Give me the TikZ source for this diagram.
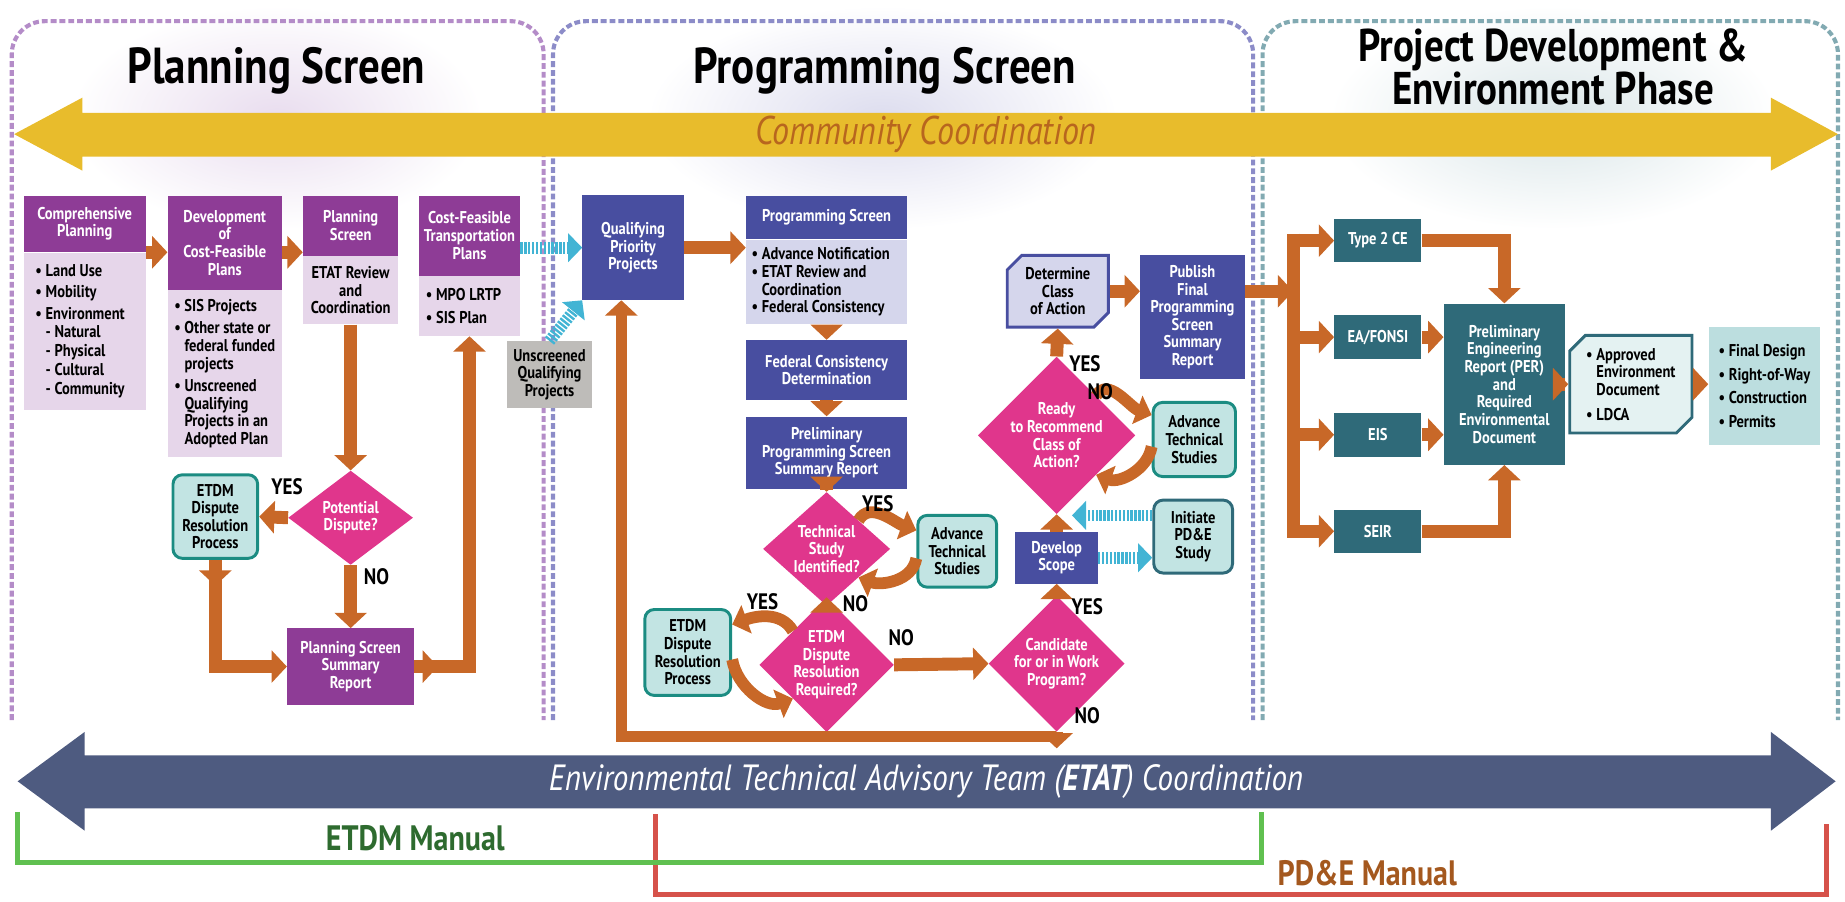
\documentclass[tikz,border=0pt]{standalone}
\usepackage{fontspec}
\setmainfont{PT Sans}[FakeStretch=0.85]
\usetikzlibrary{shapes.geometric, shapes.misc, arrows.meta, calc}

\definecolor{plum1}{RGB}{142, 60, 150}
\definecolor{plum2}{RGB}{230, 214, 234}
\definecolor{navy1}{RGB}{72, 78, 160}
\definecolor{navy2}{RGB}{213, 214, 236}
\definecolor{magenta1}{RGB}{224, 54, 140}
\definecolor{teal1}{RGB}{27, 140, 130}
\definecolor{teal2}{RGB}{194, 228, 227}
\definecolor{slate1}{RGB}{47, 106, 121}
\definecolor{slate2}{RGB}{188, 222, 223}
\definecolor{orange1}{RGB}{200, 104, 40}
\definecolor{cyan1}{RGB}{66, 180, 212}
\definecolor{gray1}{RGB}{190, 188, 185}
\definecolor{gold1}{RGB}{232, 188, 44}
\definecolor{goldtext}{RGB}{184, 102, 30}
\definecolor{etatblue}{RGB}{78, 91, 128}
\definecolor{green1}{RGB}{96, 192, 80}
\definecolor{green2}{RGB}{46, 107, 47}
\definecolor{red1}{RGB}{214, 82, 74}
\definecolor{brown1}{RGB}{164, 88, 30}
\definecolor{panelplum}{RGB}{180, 140, 200}
\definecolor{panelnavy}{RGB}{140, 140, 200}
\definecolor{panelteal}{RGB}{130, 170, 178}

\newcommand{\boxfont}{\fontsize{14.5}{15}\selectfont\bfseries}
\newcommand{\phasefont}{\fontsize{43}{40}\selectfont\bfseries}
\newcommand{\bannerfont}{\fontsize{34}{36}\selectfont\itshape}
\newcommand{\etatfont}{\fontsize{31}{33}\selectfont\itshape}
\newcommand{\manfont}{\fontsize{30}{32}\selectfont\bfseries}
\newcommand{\ynfont}{\fontsize{19}{19}\selectfont\bfseries}
\newcommand{\bul}{\textbullet\ }
\newcommand{\cont}{\hphantom{\textbullet\ }}

\tikzset{
  phead/.style={fill=plum1, text=white, font=\boxfont, align=center, inner sep=2pt, anchor=north},
  pbody/.style={fill=plum2, font=\boxfont, align=left, inner sep=4pt, anchor=north},
  nhead/.style={fill=navy1, text=white, font=\boxfont, align=center, inner sep=2pt},
  nbody/.style={fill=navy2, font=\boxfont, align=left, inner sep=4pt, anchor=north},
  dia/.style={diamond, fill=magenta1, text=white, font=\boxfont, align=center, inner sep=0pt},
  tealbox/.style={draw=teal1, line width=2.5pt, fill=teal2, rounded corners=8pt, font=\boxfont, align=center, inner sep=2pt},
  slatebox/.style={fill=slate1, text=white, font=\boxfont, align=center, inner sep=2pt},
  fatarrow/.style={draw=orange1, line width=11pt, -{Triangle[width=27pt, length=13pt]}},
  fatline/.style={draw=orange1, line width=11pt},
  fatarc/.style={draw=orange1, line width=10pt, -{Triangle[width=25pt, length=13pt]}},
  dotarrow/.style={draw=cyan1, line width=10pt, dash pattern=on 2pt off 1.3pt, -{Triangle[width=24pt, length=12pt]}},
  panel/.style={line width=3.5pt, dash pattern=on 5pt off 2.5pt, rounded corners=28pt},
  yesno/.style={font=\ynfont}
}

\begin{document}
\begin{tikzpicture}[x=1pt, y=1pt]
  \useasboundingbox (0,0) rectangle (1568,-766);

  % Glow behind the phase titles
  \shade[inner color=panelplum!30, outer color=white] (235,-100) ellipse (175 and 95);
  \shade[inner color=panelnavy!30, outer color=white] (750,-100) ellipse (200 and 95);
  \shade[inner color=panelteal!30, outer color=white] (1320,-100) ellipse (190 and 95);

  % Phase panels
  \draw[panel, draw=panelplum] (10,-612) -- (10,-18) -- (462,-18) -- (462,-612);
  \draw[panel, draw=panelnavy] (470,-612) -- (470,-18) -- (1065,-18) -- (1065,-612);
  \draw[panel, draw=panelteal] (1073,-612) -- (1073,-18) -- (1562,-18) -- (1562,-612);

  % Phase titles
  \node[font=\phasefont] (plantitle) at (235,-60) {Planning Screen};
  \node[font=\phasefont] (progtitle) at (752,-60) {Programming Screen};
  \node[font=\fontsize{39}{37}\selectfont\bfseries, align=center] (pdetitle) at (1320,-57) {Project Development \&\\Environment Phase};

  % Community coordination banner
  \fill[gold1] (12,-114) -- (70,-83) -- (70,-96) -- (1505,-96) -- (1505,-83) -- (1562,-114)
    -- (1505,-145) -- (1505,-133) -- (70,-133) -- (70,-145) -- cycle;
  \node[font=\bannerfont, text=goldtext] (commtxt) at (787,-114) {Community Coordination};

  % Planning screen
  \node[phead, minimum width=104pt, minimum height=48pt] (comphd) at (72,-166) {Comprehensive\\Planning};
  \node[pbody, minimum width=104pt, minimum height=134pt] (compbd) at (comphd.south) {
    \bul Land Use\\[3pt]\bul Mobility\\[3pt]\bul Environment\\[1pt]
    \cont- Natural\\[1pt]\cont- Physical\\[1pt]\cont- Cultural\\[1pt]\cont- Community\hspace*{8pt}};

  \node[phead, minimum width=97pt, minimum height=80pt] (devhd) at (191,-166) {Development\\of\\Cost-Feasible\\Plans};
  \node[pbody, minimum width=97pt, minimum height=142pt] (devbd) at (devhd.south) {
    \bul SIS Projects\\[4pt]\bul Other state or\\\cont federal funded\\\cont projects\\[4pt]
    \bul Unscreened\\\cont Qualifying\\\cont Projects in an\\\cont Adopted Plan};

  \node[phead, minimum width=81pt, minimum height=51pt] (psthd) at (298,-166) {Planning\\Screen};
  \node[pbody, align=center, minimum width=81pt, minimum height=58pt, inner sep=1pt] (pstbd) at (psthd.south) {ETAT Review\\and\\Coordination};

  \node[phead, minimum width=86pt, minimum height=68pt] (cfthd) at (399,-166) {Cost-Feasible\\Transportation\\Plans};
  \node[pbody, minimum width=86pt, minimum height=51pt] (cftbd) at (cfthd.south) {\bul MPO LRTP\hspace*{10pt}\\[4pt]\bul SIS Plan};

  \draw[fatarrow] (comphd.south east) -- (devhd.west |- comphd.south east);
  \draw[fatarrow] (devhd.east |- comphd.south) -- (psthd.west |- comphd.south);

  \node[dia, minimum width=106pt, minimum height=80pt] (pdisp) at (298,-440) {Potential\\Dispute?};
  \node[tealbox, minimum width=72pt, minimum height=71pt] (etdm1) at (183,-439) {ETDM\\Dispute\\Resolution\\Process};
  \node[fill=plum1, text=white, font=\boxfont, align=center, minimum width=108pt, minimum height=65pt] (sumrep) at (298,-566.5) {Planning Screen\\Summary\\Report};

  \draw[fatarrow] (pstbd.south) -- (pdisp.north);
  \draw[fatarrow] (pdisp.west) -- (etdm1.east);
  \draw[fatarrow] (pdisp.south) -- (sumrep.north);
  \draw[fatarrow] (etdm1.south) |- (sumrep.west);
  \draw[fatarrow] (etdm1.south) -- ++(0,-22);
  \draw[fatarrow] (sumrep.east) -| (cftbd.south);
  \draw[fatarrow] (sumrep.east) -- ++(20,0);
  \node[yesno] (yes1) at (244,-414) {YES};
  \node[yesno] (no1) at (320,-490) {NO};

  % Programming screen
  \node[fill=gray1, font=\boxfont, align=center, minimum width=72pt, minimum height=57pt, inner sep=1pt] (unscr) at (467,-318.5) {Unscreened\\Qualifying\\Projects};
  \node[nhead, minimum width=86pt, minimum height=89pt] (qpp) at (538,-210.5) {Qualifying\\Priority\\Projects};
  \draw[dotarrow] (cfthd.east |- qpp.west) -- (qpp.west);
  \draw[dotarrow] (unscr.north) -- (qpp.south west);

  \node[nhead, anchor=north, minimum width=137pt, minimum height=37pt] (pshd) at (702.5,-166) {Programming Screen};
  \node[nbody, minimum width=137pt, minimum height=72pt] (psbd) at (pshd.south) {
    \bul Advance Notification\hspace*{10pt}\\\bul ETAT Review and\\\cont Coordination\\\bul Federal Consistency};
  \node[nhead, minimum width=137pt, minimum height=51pt] (fcd) at (702.5,-314.5) {Federal Consistency\\Determination};
  \node[nhead, minimum width=137pt, minimum height=62pt] (pre) at (702.5,-385) {Preliminary\\Programming Screen\\Summary Report};

  \draw[fatarrow] (qpp.east) -- (pshd.west |- qpp.east);
  \draw[fatarrow] (psbd.south) -- (fcd.north);
  \draw[fatarrow] (fcd.south) -- (pre.north);

  \node[dia, minimum width=108pt, minimum height=78pt] (techdia) at (702.5,-466.5) {Technical\\Study\\Identified?};
  \node[tealbox, minimum width=67pt, minimum height=61pt] (adv1) at (813.5,-468.5) {Advance\\Technical\\Studies};
  \node[dia, minimum width=112pt, minimum height=92pt] (etdmreq) at (702.5,-565) {ETDM\\Dispute\\Resolution\\Required?};
  \node[tealbox, minimum width=73pt, minimum height=73pt] (etdm2) at (584.5,-554.5) {ETDM\\Dispute\\Resolution\\Process};

  \draw[fatarrow] (pre.south) -- (techdia.north);
  \draw[fatarrow] (techdia.south) -- (etdmreq.north);
  \draw[fatarc] (techdia.north east) to[out=60, in=160] ($(adv1.north west)+(0,-14)$);
  \draw[fatarc] ($(adv1.west)+(0,-6)$) to[out=-100, in=-20] (techdia.south east);
  \draw[fatarc] (etdmreq.north west) to[out=120, in=20] ($(etdm2.north east)+(0,-14)$);
  \draw[fatarc] ($(etdm2.east)+(0,-6)$) to[out=-80, in=200] (etdmreq.south west);
  \node[yesno] (yes2) at (746,-428) {YES};
  \node[yesno] (no2) at (727,-513) {NO};
  \node[yesno] (yes3) at (648,-511) {YES};
  \node[yesno] (no3) at (766,-542) {NO};

  \node[dia, minimum width=104pt, minimum height=84pt] (cand) at (898,-564) {Candidate\\for or in Work\\Program?};
  \node[nhead, minimum width=70pt, minimum height=44pt] (devsc) at (898,-474) {Develop\\Scope};
  \node[tealbox, draw=slate1, minimum width=67pt, minimum height=62pt] (init) at (1014,-456) {Initiate\\PD\&E\\Study};
  \node[dia, minimum width=110pt, minimum height=82pt] (ready) at (898,-370) {Ready\\to Recommend\\Class of\\Action?};
  \node[tealbox, minimum width=70pt, minimum height=63pt] (adv2) at (1015,-373.5) {Advance\\Technical\\Studies};
  \node[chamfered rectangle, chamfered rectangle corners={north west, south east}, chamfered rectangle xsep=9pt,
    draw=navy1, line width=2.5pt, fill=navy2, font=\boxfont, align=center, minimum width=86pt, minimum height=61pt] (detcls) at (899,-247.5) {Determine\\Class\\of Action};
  \node[nhead, minimum width=89pt, minimum height=105pt] (publ) at (1013.5,-269.5) {Publish\\Final\\Programming\\Screen\\Summary\\Report};

  \draw[fatarrow] (etdmreq.east) -- (cand.west);
  \draw[fatarrow] (cand.north) -- (devsc.south);
  \draw[fatarrow] (devsc.north) -- (ready.south);
  \draw[fatarrow] (ready.north) -- (detcls.south);
  \draw[fatarrow] (detcls.east) -- (publ.west |- detcls.east);
  \draw[fatarc] (ready.north east) to[out=60, in=160] ($(adv2.north west)+(0,-12)$);
  \draw[fatarc] ($(adv2.west)+(0,-6)$) to[out=-100, in=-20] (ready.south east);
  \draw[dotarrow] (devsc.east) -- (init.west |- devsc.east);
  \draw[dotarrow] ($(init.west)+(0,18)$) -- ($(devsc.north |- init.west)+(13,18)$);
  \node[yesno] (yes4) at (924,-516) {YES};
  \node[yesno] (no4) at (924,-608) {NO};
  \node[yesno] (yes5) at (922,-309) {YES};
  \node[yesno] (no5) at (935,-333) {NO};

  % Loop back to qualifying projects
  \coordinate (loopbot) at (528,-626);
  \draw[fatarrow, line width=9pt] (cand.south) |- (loopbot) -- (loopbot |- qpp.south);
  \draw[fatarrow] (cand.south) -- ++(0,-14);

  % Project development and environment
  \node[slatebox, minimum width=74pt, minimum height=37pt] (type2) at (1171,-204.5) {Type 2 CE};
  \node[slatebox, minimum width=74pt, minimum height=37pt] (eafonsi) at (1171,-286.5) {EA/FONSI};
  \node[slatebox, minimum width=74pt, minimum height=37pt] (eis) at (1171,-369.5) {EIS};
  \node[slatebox, minimum width=74pt, minimum height=37pt] (seir) at (1171,-451.5) {SEIR};
  \node[slatebox, minimum width=103pt, minimum height=137pt] (per) at (1278.5,-326.5) {Preliminary\\Engineering\\Report (PER)\\and\\Required\\Environmental\\Document};
  \node[chamfered rectangle, chamfered rectangle corners={north west, south east}, chamfered rectangle xsep=10pt,
    draw=slate1, line width=2.5pt, fill=slate2!40, font=\boxfont, align=left, inner sep=4pt, minimum width=92pt, minimum height=83pt] (appr) at (1386,-326.5) {
    \bul Approved\\\cont Environment\\\cont Document\\[6pt]\bul LDCA};
  \node[fill=slate2, font=\boxfont, align=left, minimum width=95pt, minimum height=100pt] (final) at (1499.5,-328) {
    \bul Final Design\\[5pt]\bul Right-of-Way\\[5pt]\bul Construction\\[5pt]\bul Permits};

  \coordinate (pdetop) at (type2.west -| 1099,0);
  \coordinate (pdebot) at (seir.west -| 1099,0);
  \draw[fatline] ($(pdetop)+(0,6)$) -- ($(pdebot)+(0,-6)$);
  \draw[fatarrow] (publ.east |- detcls.east) -- (detcls.east -| pdetop);
  \foreach \b in {type2, eafonsi, eis, seir}
    \draw[fatarrow] (\b.west -| pdetop) -- (\b.west);
  \draw[fatarrow] (type2.east) -| (per.north);
  \draw[fatarrow] (seir.east) -| (per.south);
  \draw[fatarrow] (eafonsi.east) -- (per.west |- eafonsi.east);
  \draw[fatarrow] (eis.east) -- (per.west |- eis.east);
  \draw[fatarrow] (per.east |- appr.west) -- (appr.west);
  \draw[fatarrow] (appr.east) -- (final.west |- appr.east);

  % ETAT coordination banner
  \fill[etatblue] (15,-664) -- (72,-622) -- (72,-642) -- (1505,-642) -- (1505,-622) -- (1560,-664)
    -- (1505,-706) -- (1505,-687) -- (72,-687) -- (72,-706) -- cycle;
  \node[font=\etatfont, text=white] (etattxt) at (787,-664) {Environmental Technical Advisory Team (\textbf{ETAT}) Coordination};

  % Manuals
  \draw[red1, line width=4pt] (557,-692) |- (1552,-760) -- (1552,-700);
  \draw[green1, line width=4pt] (15,-690) |- (1072,-733) -- (1072,-690);
  \node[font=\manfont, text=green2] (etdmman) at (353,-712) {ETDM Manual};
  \node[font=\manfont, text=brown1] (pdeman) at (1162,-742) {PD\&E Manual};
\end{tikzpicture}
\end{document}
